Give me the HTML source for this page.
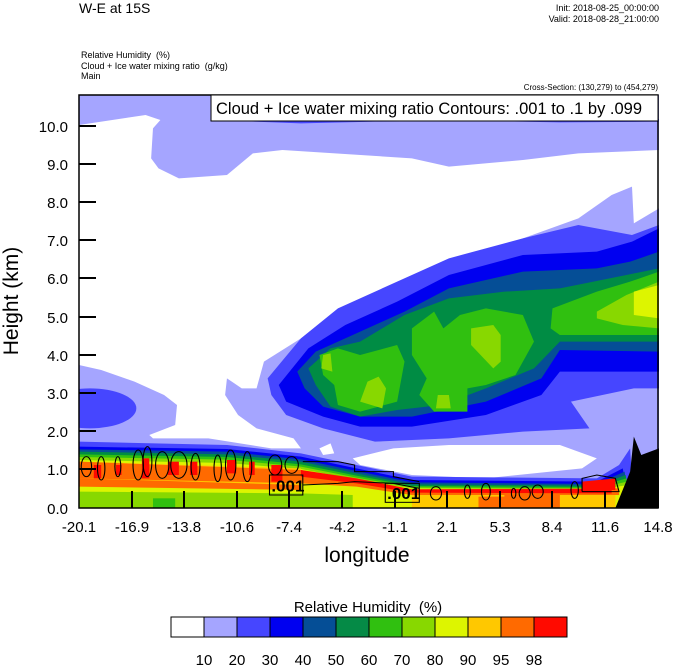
<!DOCTYPE html>
<html><head><style>
body{margin:0;background:#fff;}
.t{position:absolute;font-family:"Liberation Sans",sans-serif;color:#000;white-space:nowrap;}
</style></head><body>
<div style="position:relative;width:674px;height:667px;overflow:hidden;">
<div class="t" style="left:79px;top:0px;font-size:14px;">W-E at 15S</div>
<div class="t" style="right:15px;top:3px;font-size:9px;text-align:right;line-height:11px;">Init: 2018-08-25_00:00:00<br>Valid: 2018-08-28_21:00:00</div>
<div class="t" style="left:81px;top:50px;font-size:9px;line-height:10.5px;">Relative Humidity &nbsp;(%)<br>Cloud + Ice water mixing ratio &nbsp;(g/kg)<br>Main</div>
<div class="t" style="right:16px;top:83px;font-size:8px;">Cross-Section: (130,279) to (454,279)</div>

<svg style="position:absolute;left:79px;top:95px;" width="580" height="413" viewBox="0 0 1568 1239" preserveAspectRatio="none">
<rect width="1568" height="1239" fill="#a5a5ff"/>
<polygon fill="#4646ff" points="360,75 600,85 800,80 1100,78 1300,82 1568,80 1568,72 360,72"/>
<polygon fill="#fff" points="0,90 180,60 220,75 200,100 195,190 215,220 270,250 400,240 470,175 550,165 900,190 1000,215 1200,195 1350,175 1568,165 1568,340 1500,385 1495,275 1440,300 1350,370 1200,430 1050,490 900,580 750,620 680,660 600,730 500,800 480,880 440,880 400,850 395,900 430,960 480,1000 580,1030 600,1060 520,1060 350,1030 200,1030 190,1020 260,990 265,930 230,900 150,860 60,825 0,810"/>
<polygon fill="#fff" points="740,1090 850,1060 1000,1050 1300,1050 1400,1090 1360,1120 1100,1150 900,1140 760,1110"/>
<polygon fill="#fff" points="650,1060 680,1045 690,1075 660,1080"/>
<ellipse cx="30" cy="940" rx="125" ry="60" fill="#4646ff"/>
<polygon fill="#4646ff" points="510,850 600,730 700,640 860,560 1000,490 1200,430 1350,390 1495,420 1568,390 1568,880 1500,880 1330,920 1380,1000 1200,1010 1000,1030 800,1040 660,1000 560,960 520,900"/>
<polygon fill="#0000f0" points="540,870 620,760 720,690 860,620 1000,540 1200,480 1400,470 1495,440 1568,400 1568,830 1300,830 1250,900 1100,960 900,995 760,995 660,965 560,920"/>
<polygon fill="#054e96" points="590,830 640,770 740,720 880,650 1000,580 1200,530 1400,520 1490,500 1568,470 1568,770 1300,765 1250,850 1100,920 900,965 760,965 660,935 610,880"/>
<polygon fill="#008c44" points="620,820 680,760 760,740 880,660 1000,610 1150,590 1300,580 1480,540 1568,520 1568,740 1300,740 1230,820 1100,880 980,930 860,945 760,965 680,935 640,870"/>
<polygon fill="#30c010" points="650,780 700,760 760,780 860,750 880,800 860,920 760,950 700,930 690,870 660,840"/>
<polygon fill="#30c010" points="900,700 960,650 985,700 1030,660 1100,640 1200,660 1230,740 1180,840 1100,870 1050,880 1050,950 960,950 920,900 940,850 900,780"/>
<polygon fill="#30c010" points="1280,640 1400,590 1490,560 1568,530 1568,720 1460,720 1300,720 1275,700"/>
<polygon fill="#88d800" points="1060,700 1120,690 1140,720 1140,800 1120,820 1060,750"/>
<polygon fill="#88d800" points="760,920 780,860 810,845 830,880 820,940"/>
<polygon fill="#88d800" points="970,900 1000,900 1005,940 965,940"/>
<polygon fill="#88d800" points="660,780 680,775 685,830 655,820"/>
<polygon fill="#88d800" points="1400,650 1480,600 1568,560 1568,700 1470,690 1400,670"/>
<polygon fill="#ddf500" points="1500,590 1568,570 1568,670 1500,660"/>
<!-- boundary layer -->
<polygon fill="#4646ff" points="0,1040 400,1050 600,1075 750,1110 900,1145 1400,1150 1460,1110 1490,1060 1500,1239 0,1239"/>
<polygon fill="#0000f0" points="0,1055 400,1062 600,1085 750,1120 900,1155 1400,1160 1470,1120 1490,1239 0,1239"/>
<polygon fill="#054e96" points="0,1063 400,1070 600,1093 750,1128 900,1162 1400,1167 1475,1130 1490,1239 0,1239"/>
<polygon fill="#008c44" points="0,1070 400,1078 600,1100 750,1135 900,1168 1400,1172 1478,1140 1490,1239 0,1239"/>
<polygon fill="#30c010" points="0,1078 400,1086 600,1108 750,1142 900,1173 1400,1176 1480,1150 1490,1239 0,1239"/>
<polygon fill="#88d800" points="0,1086 400,1094 600,1115 750,1148 900,1177 1400,1180 1482,1160 1490,1239 0,1239"/>
<polygon fill="#ddf500" points="0,1095 400,1104 600,1122 750,1154 900,1180 1400,1184 1485,1170 1490,1239 0,1239"/>
<polygon fill="#88d800" points="0,1190 600,1195 740,1200 740,1239 0,1239"/>
<rect x="200" y="1210" width="60" height="29" fill="#30c010"/>
<polygon fill="#ffc800" points="900,1200 1450,1195 1450,1239 900,1239"/>
<polygon fill="#ff6a00" points="1080,1205 1200,1205 1200,1239 1080,1239"/>
<polygon fill="#ff6a00" points="1150,1190 1300,1190 1300,1239 1150,1239"/>
<polygon fill="#ffc800" points="0,1100 600,1120 600,1170 0,1170"/>
<polygon fill="#ff6a00" points="0,1100 600,1125 750,1160 900,1183 1460,1180 1460,1200 900,1200 750,1175 600,1165 0,1150"/>
<polygon fill="#ff0a00" points="600,1125 750,1150 900,1183 1440,1182 1440,1195 900,1193 750,1165 600,1145"/>
<polygon fill="#ff0a00" points="1360,1160 1450,1150 1450,1185 1360,1185"/>
<g fill="#ff0a00">
<rect x="170" y="1090" width="20" height="60"/><rect x="240" y="1100" width="30" height="40"/><rect x="300" y="1100" width="20" height="40"/>
<rect x="400" y="1095" width="25" height="40"/><rect x="460" y="1100" width="15" height="40"/><rect x="520" y="1110" width="30" height="50"/>
<rect x="40" y="1110" width="20" height="40"/><rect x="100" y="1110" width="15" height="30"/>
</g>
<polygon fill="#ff6a00" points="0,1150 600,1170 600,1185 0,1175"/>
<polygon fill="#000" points="1450,1239 1490,1130 1500,1025 1520,1080 1568,1060 1568,1239"/>
<g fill="none" stroke="#000" stroke-width="3">
<ellipse cx="20" cy="1115" rx="14" ry="30"/><ellipse cx="60" cy="1120" rx="10" ry="35"/><ellipse cx="105" cy="1115" rx="8" ry="30"/>
<ellipse cx="160" cy="1110" rx="14" ry="45"/><ellipse cx="185" cy="1100" rx="12" ry="45"/><ellipse cx="225" cy="1110" rx="18" ry="40"/>
<ellipse cx="270" cy="1110" rx="22" ry="40"/><ellipse cx="315" cy="1115" rx="12" ry="40"/><ellipse cx="375" cy="1120" rx="10" ry="40"/>
<ellipse cx="410" cy="1110" rx="14" ry="45"/><ellipse cx="455" cy="1115" rx="12" ry="45"/><ellipse cx="530" cy="1110" rx="18" ry="30"/>
<ellipse cx="575" cy="1110" rx="18" ry="25"/>
<polyline points="605,1100 700,1100 745,1110 745,1130 850,1130 850,1145 920,1160"/>
<polyline points="605,1170 700,1165 745,1160 850,1165 920,1180"/>
<ellipse cx="965" cy="1195" rx="15" ry="20"/><ellipse cx="1050" cy="1190" rx="8" ry="20"/><ellipse cx="1100" cy="1190" rx="12" ry="25"/>
<ellipse cx="1175" cy="1195" rx="6" ry="15"/><ellipse cx="1205" cy="1195" rx="15" ry="20"/><ellipse cx="1240" cy="1190" rx="15" ry="20"/>
<ellipse cx="1340" cy="1185" rx="10" ry="25"/><polyline points="1360,1190 1360,1150 1400,1140 1450,1150 1460,1190 1360,1190"/>
</g>
<g stroke="#000" stroke-width="3"><rect x="515" y="1140" width="90" height="60" fill="#fff" fill-opacity="0"/><rect x="828" y="1165" width="92" height="57" fill="none"/></g>
<text x="520" y="1190" font-family="Liberation Sans,sans-serif" font-weight="bold" font-size="46" transform="scale(1,1)">.001</text>
<text x="833" y="1212" font-family="Liberation Sans,sans-serif" font-weight="bold" font-size="46">.001</text>
</svg>

<svg style="position:absolute;left:0;top:0;" width="674" height="667">
<rect x="79" y="95" width="579" height="413" fill="none" stroke="#000" stroke-width="1.5"/>
<g stroke="#000" stroke-width="2">
<line x1="79" y1="126" x2="96" y2="126"/><line x1="79" y1="164" x2="96" y2="164"/><line x1="79" y1="202" x2="96" y2="202"/>
<line x1="79" y1="240" x2="96" y2="240"/><line x1="79" y1="278" x2="96" y2="278"/><line x1="79" y1="317" x2="96" y2="317"/>
<line x1="79" y1="355" x2="96" y2="355"/><line x1="79" y1="393" x2="96" y2="393"/><line x1="79" y1="431" x2="96" y2="431"/>
<line x1="79" y1="469" x2="96" y2="469"/>
<line x1="132" y1="508" x2="132" y2="491"/><line x1="184" y1="508" x2="184" y2="491"/><line x1="237" y1="508" x2="237" y2="491"/>
<line x1="289" y1="508" x2="289" y2="491"/><line x1="342" y1="508" x2="342" y2="491"/><line x1="395" y1="508" x2="395" y2="491"/>
<line x1="447" y1="508" x2="447" y2="491"/><line x1="500" y1="508" x2="500" y2="491"/><line x1="552" y1="508" x2="552" y2="491"/>
<line x1="605" y1="508" x2="605" y2="491"/>
</g>
<rect x="211" y="95" width="447" height="26" fill="#fff" stroke="#000" stroke-width="1"/>
<text x="216" y="114" font-family="Liberation Sans,sans-serif" font-size="16.5">Cloud + Ice water mixing ratio Contours: .001 to .1 by .099</text>
<g font-family="Liberation Sans,sans-serif" font-size="15" text-anchor="end">
<text x="68" y="132">10.0</text><text x="68" y="170">9.0</text><text x="68" y="208">8.0</text><text x="68" y="246">7.0</text>
<text x="68" y="284">6.0</text><text x="68" y="323">5.0</text><text x="68" y="361">4.0</text><text x="68" y="399">3.0</text>
<text x="68" y="437">2.0</text><text x="68" y="475">1.0</text><text x="68" y="514">0.0</text>
</g>
<g font-family="Liberation Sans,sans-serif" font-size="15" text-anchor="middle">
<text x="79" y="532">-20.1</text><text x="132" y="532">-16.9</text><text x="184" y="532">-13.8</text><text x="237" y="532">-10.6</text>
<text x="289" y="532">-7.4</text><text x="342" y="532">-4.2</text><text x="395" y="532">-1.1</text><text x="447" y="532">2.1</text>
<text x="500" y="532">5.3</text><text x="552" y="532">8.4</text><text x="605" y="532">11.6</text><text x="658" y="532">14.8</text>
</g>
<text x="367" y="562" font-family="Liberation Sans,sans-serif" font-size="21" text-anchor="middle">longitude</text>
<text transform="translate(18,301) rotate(-90)" font-family="Liberation Sans,sans-serif" font-size="21" text-anchor="middle">Height (km)</text>
<text x="368" y="612" font-family="Liberation Sans,sans-serif" font-size="15" text-anchor="middle">Relative Humidity &#160;(%)</text>
<g stroke="#000" stroke-width="1">
<rect x="171" y="617" width="33" height="20" fill="#fff"/><rect x="204" y="617" width="33" height="20" fill="#a5a5ff"/>
<rect x="237" y="617" width="33" height="20" fill="#4646ff"/><rect x="270" y="617" width="33" height="20" fill="#0000f0"/>
<rect x="303" y="617" width="33" height="20" fill="#054e96"/><rect x="336" y="617" width="33" height="20" fill="#058a46"/>
<rect x="369" y="617" width="33" height="20" fill="#30c010"/><rect x="402" y="617" width="33" height="20" fill="#88d800"/>
<rect x="435" y="617" width="33" height="20" fill="#ddf500"/><rect x="468" y="617" width="33" height="20" fill="#ffc800"/>
<rect x="501" y="617" width="33" height="20" fill="#ff6a00"/><rect x="534" y="617" width="33" height="20" fill="#ff0a00"/>
</g>
<g font-family="Liberation Sans,sans-serif" font-size="15" text-anchor="middle">
<text x="204" y="665">10</text><text x="237" y="665">20</text><text x="270" y="665">30</text><text x="303" y="665">40</text>
<text x="336" y="665">50</text><text x="369" y="665">60</text><text x="402" y="665">70</text><text x="435" y="665">80</text>
<text x="468" y="665">90</text><text x="501" y="665">95</text><text x="534" y="665">98</text>
</g>
</svg>
</div>
</body></html>
